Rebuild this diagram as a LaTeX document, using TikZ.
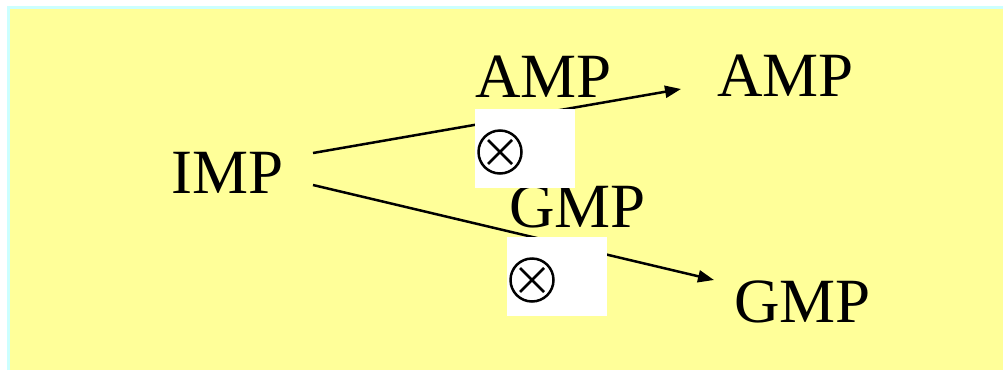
\documentclass[tikz,border=0pt]{standalone}
\usepackage{fontspec}
\setmainfont{Liberation Serif}
\usetikzlibrary{arrows.meta}
\definecolor{bgyellow}{HTML}{FFFF99}
\definecolor{bgcyan}{HTML}{CCFFFF}
\tikzset{
  lbl/.style={anchor=base west, inner sep=0pt, font=\fontsize{63}{63}\selectfont},
  conn/.style={line width=2.5pt, -{Triangle[length=16pt,width=12pt]}},
  cover/.style={fill=white, draw=none},
  otimesmark/.style={circle, draw, line width=2.5pt, minimum size=43pt, inner sep=0pt,
    path picture={\draw[line width=2.5pt] ([shift={(-12pt,-12pt)}]path picture bounding box.center) -- ([shift={(12pt,12pt)}]path picture bounding box.center)
      ([shift={(-12pt,12pt)}]path picture bounding box.center) -- ([shift={(12pt,-12pt)}]path picture bounding box.center);}}
}
\begin{document}
\begin{tikzpicture}[x=1pt,y=-1pt]
\useasboundingbox (0,0) rectangle (1003,370);
\fill[bgcyan] (7,6) rectangle (1003,370);
\fill[bgyellow] (9.5,8.5) rectangle (1003,370);
\node[lbl] (imp) at (171,193) {IMP};
\node[lbl] (amp1) at (475,97) {AMP};
\node[lbl] (amp2) at (717,96) {AMP};
\node[lbl] (gmp1) at (509,227) {GMP};
\node[lbl] (gmp2) at (734,322) {GMP};
\coordinate (s1) at (313,153);
\coordinate (e1) at (681,89);
\coordinate (s2) at (313,185);
\coordinate (e2) at (714,280);
\draw[conn] (s1) -- (e1);
\draw[conn] (s2) -- (e2);
\fill[cover] (475,109) rectangle (575,188);
\fill[cover] (507,237) rectangle (607,316);
\node[otimesmark] (x1) at (500,152) {};
\node[otimesmark] (x2) at (532,280) {};
\end{tikzpicture}
\end{document}
